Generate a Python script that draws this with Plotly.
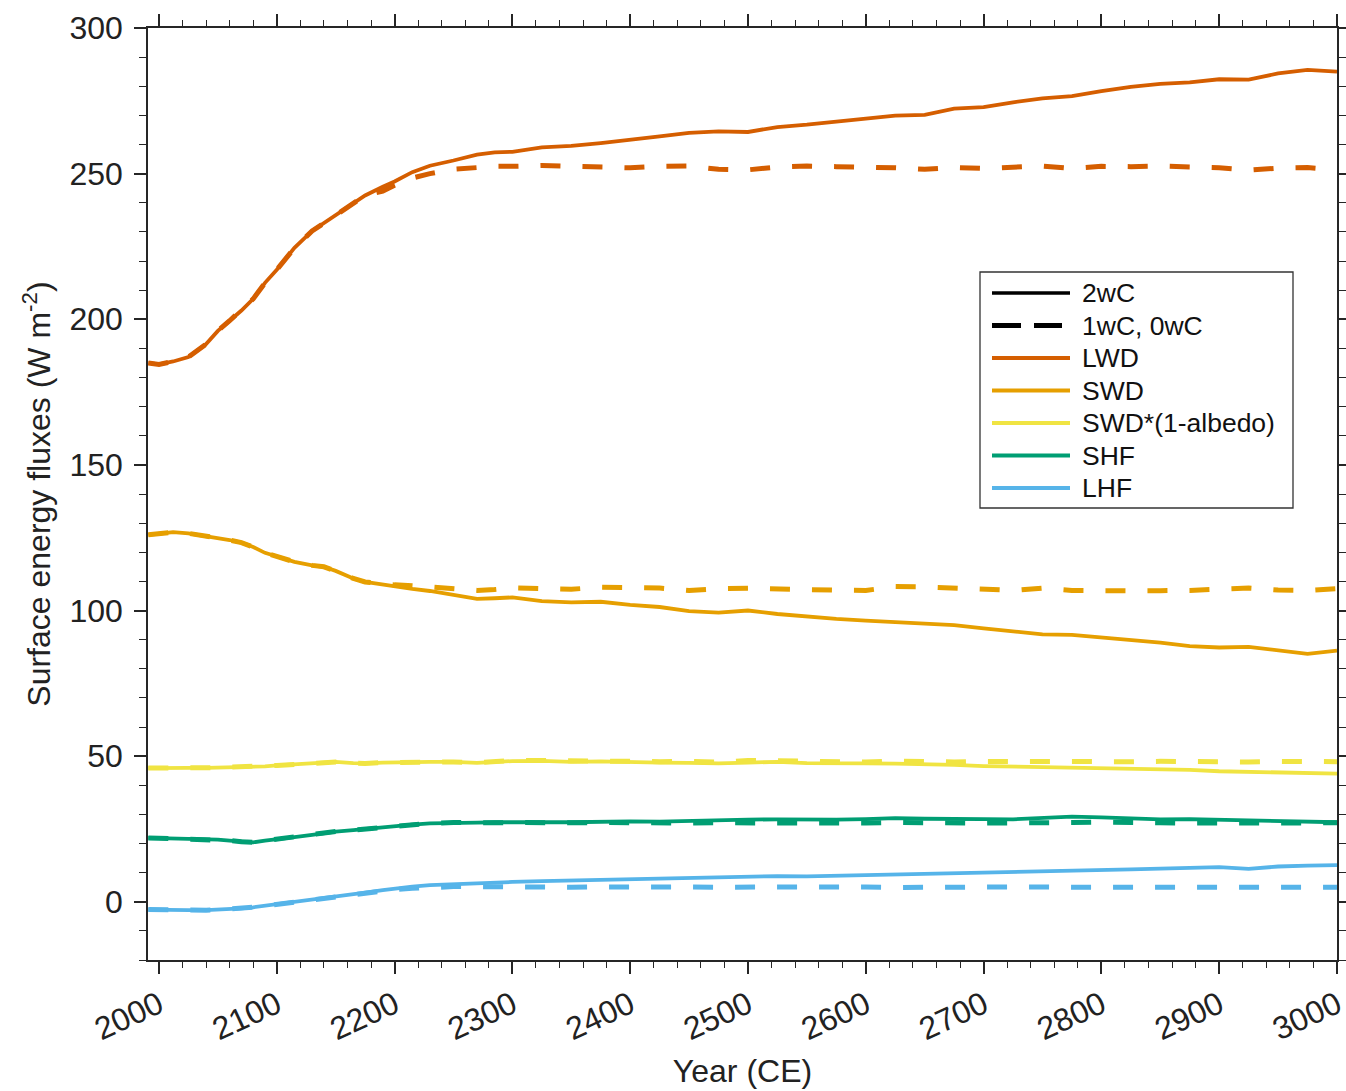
import plotly.graph_objects as go

# Model years (CE) at which the surface fluxes are sampled
YEARS = [1991, 2000, 2012, 2025, 2040, 2050, 2060, 2070, 2080, 2090, 2100,
         2115, 2130, 2140, 2150, 2165, 2175, 2190, 2200, 2215, 2230, 2250,
         2270, 2285, 2300, 2325, 2350, 2375, 2400, 2425, 2450, 2475, 2500,
         2525, 2550, 2575, 2600, 2625, 2650, 2675, 2700, 2725, 2750, 2775,
         2800, 2825, 2850, 2875, 2900, 2925, 2950, 2975, 3000]

# ---- 2wC experiment (solid lines), W m-2 ----
LWD_2WC = [185.0, 184.5, 185.5, 187.0, 191.5, 196.0, 199.5, 203.0, 207.0, 212.5, 217.0,
           224.5, 230.3, 233.0, 235.8, 240.0, 242.5, 245.5, 247.3, 250.5, 252.7, 254.5,
           256.5, 257.3, 257.5, 259.0, 259.5, 260.5, 261.5, 262.8, 264.0, 264.5, 264.3,
           266.0, 266.8, 267.8, 268.7, 269.9, 270.2, 272.3, 272.8, 274.5, 275.8, 276.6,
           278.3, 279.8, 280.8, 281.3, 282.4, 282.3, 284.4, 285.6, 285.0]
SWD_2WC = [126.0, 126.3, 126.9, 126.5, 125.6, 125.0, 124.2, 123.3, 121.8, 119.8, 118.5,
           116.7, 115.5, 115.0, 113.6, 111.0, 109.8, 108.8, 108.2, 107.4, 106.7, 105.3,
           104.0, 104.2, 104.5, 103.2, 102.8, 103.0, 101.9, 101.2, 99.8, 99.3, 100.0,
           98.8, 97.8, 97.1, 96.5, 96.0, 95.4, 95.0, 93.9, 93.0, 91.8, 91.6,
           90.8, 89.8, 89.0, 87.8, 87.3, 87.5, 86.3, 85.1, 86.2]
SWA_2WC = [45.9, 46.0, 46.1, 46.0, 46.0, 46.1, 46.0, 46.1, 46.2, 46.5, 46.8,
           47.1, 47.6, 47.8, 48.0, 47.6, 47.5, 47.8, 47.9, 47.8, 48.0, 48.0,
           47.7, 48.0, 48.3, 48.4, 48.0, 48.2, 47.9, 47.8, 47.7, 47.5, 47.8,
           48.0, 47.6, 47.7, 47.5, 47.4, 47.3, 47.0, 46.6, 46.4, 46.2, 46.3,
           46.0, 45.8, 45.7, 45.3, 44.8, 44.6, 44.5, 44.0, 44.0]
SHF_2WC = [21.9, 21.8, 21.7, 21.8, 21.5, 21.3, 21.0, 20.6, 20.4, 21.0, 21.6,
           22.2, 23.0, 23.6, 24.1, 24.6, 25.0, 25.7, 26.1, 26.5, 26.9, 27.2,
           27.2, 27.3, 27.4, 27.3, 27.3, 27.6, 27.6, 27.5, 27.8, 28.0, 28.2,
           28.3, 28.1, 28.2, 28.4, 28.7, 28.5, 28.6, 28.4, 28.3, 28.7, 29.2,
           29.0, 28.5, 28.3, 28.4, 28.2, 28.0, 27.9, 27.5, 27.3]
LHF_2WC = [-2.7, -2.8, -2.9, -2.9, -2.9, -2.8, -2.6, -2.3, -1.9, -1.4, -0.9,
           -0.1, 0.6, 1.1, 1.6, 2.5, 3.1, 4.0, 4.6, 5.2, 5.7, 6.1,
           6.5, 6.7, 6.8, 7.1, 7.3, 7.7, 8.0, 8.1, 8.3, 8.4, 8.5,
           8.8, 8.7, 8.9, 9.1, 9.3, 9.4, 9.6, 9.9, 10.1, 10.4, 10.7,
           10.9, 11.1, 11.4, 11.7, 11.9, 11.3, 12.1, 12.4, 12.6]

# ---- 1wC / 0wC experiments (dashed lines), W m-2 ----
LWD_1WC = [185.0, 184.5, 185.5, 187.0, 191.5, 196.0, 199.5, 203.0, 207.0, 212.5, 217.0,
           224.5, 230.3, 233.0, 235.8, 240.0, 242.5, 244.0, 246.0, 248.5, 250.0, 251.5,
           252.3, 252.5, 252.5, 252.8, 252.5, 252.3, 252.0, 252.5, 252.6, 251.5, 251.3,
           252.3, 252.6, 252.4, 252.3, 252.0, 251.5, 252.1, 251.8, 252.3, 252.6, 251.8,
           252.5, 252.4, 252.6, 252.3, 252.0, 251.2, 251.9, 252.1, 251.3]
SWD_1WC = [126.0, 126.3, 126.9, 126.5, 125.6, 125.0, 124.2, 123.3, 121.8, 119.8, 118.5,
           116.7, 115.5, 115.0, 113.6, 111.0, 109.8, 109.0, 108.8, 108.5, 108.0, 107.5,
           106.9, 107.2, 107.8, 107.5, 107.3, 108.0, 108.0, 107.7, 106.9, 107.5, 107.6,
           107.3, 107.3, 107.0, 106.9, 108.2, 108.1, 107.7, 107.2, 106.9, 107.7, 106.9,
           106.8, 107.0, 106.8, 106.9, 107.1, 107.7, 107.0, 106.9, 107.5]
SWA_1WC = [45.9, 46.0, 46.1, 46.0, 46.0, 46.1, 46.0, 46.1, 46.2, 46.5, 46.8,
           47.1, 47.6, 47.8, 48.0, 47.6, 47.5, 47.8, 47.9, 47.8, 48.0, 48.0,
           47.7, 48.0, 48.5, 48.5, 48.3, 48.4, 48.3, 48.1, 48.2, 47.9, 48.5,
           48.3, 48.0, 48.1, 48.0, 48.3, 48.1, 48.0, 48.2, 48.1, 48.3, 48.0,
           48.2, 48.1, 48.2, 48.0, 48.1, 48.0, 48.2, 48.0, 48.1]
SHF_1WC = [21.9, 21.8, 21.7, 21.8, 21.5, 21.3, 21.0, 20.6, 20.4, 21.0, 21.6,
           22.2, 23.0, 23.6, 24.1, 24.6, 25.0, 25.7, 26.1, 26.5, 26.9, 27.2,
           27.0, 27.1, 27.2, 27.0, 27.1, 27.2, 27.0, 27.1, 27.0, 27.1, 27.0,
           27.2, 27.0, 27.1, 27.0, 27.2, 27.0, 27.1, 27.0, 27.1, 27.0, 27.2,
           27.3, 27.0, 27.1, 27.0, 27.1, 27.0, 27.2, 27.0, 27.1]
LHF_1WC = [-2.7, -2.8, -2.9, -2.9, -2.9, -2.8, -2.6, -2.3, -1.9, -1.4, -0.9,
           -0.1, 0.6, 1.1, 1.6, 2.5, 3.1, 4.0, 4.2, 4.6, 4.9, 5.2,
           5.2, 5.1, 5.0, 5.2, 5.0, 5.1, 5.2, 5.0, 5.1, 5.0, 5.1,
           5.0, 5.3, 5.0, 5.1, 4.9, 5.0, 5.1, 5.0, 5.0, 5.1, 5.0,
           5.0, 5.1, 5.0, 5.0, 5.1, 5.0, 5.0, 4.9, 5.0]

SERIES = ["LWD", "SWD", "SWD*(1-albedo)", "SHF", "LHF"]
COLORS = ["#D55E00", "#E69F00", "#F0E442", "#009E73", "#56B4E9"]
SOLID = [LWD_2WC, SWD_2WC, SWA_2WC, SHF_2WC, LHF_2WC]
DASHED = [LWD_1WC, SWD_1WC, SWA_1WC, SHF_1WC, LHF_1WC]
STYLE_LABELS = ["2wC", "1wC, 0wC"]

FONT = "Liberation Sans, Arial, Helvetica, sans-serif"
AXIS_COLOR = "#262626"
DASH = "20px,22px"

# Figure and plot-area geometry in pixels
W, H = 1346, 1091
L, R, T, B = 148, 9, 28, 131
PW, PH = W - L - R, H - T - B


def px_x(px):
    """Horizontal pixel position -> paper fraction."""
    return (px - L) / PW


def px_y(py):
    """Vertical pixel position (from top) -> paper fraction."""
    return (H - B - py) / PH


fig = go.Figure()

# Solid lines: 2wC run
for name, color, vals in zip(SERIES, COLORS, SOLID):
    fig.add_trace(go.Scatter(x=YEARS, y=vals, mode="lines", name=name + " (2wC)",
                             showlegend=False,
                             line=dict(color=color, width=3.8)))

# Dashed lines: 1wC / 0wC runs
for name, color, vals in zip(SERIES, COLORS, DASHED):
    fig.add_trace(go.Scatter(x=YEARS, y=vals, mode="lines", name=name + " (1wC, 0wC)",
                             showlegend=False,
                             line=dict(color=color, width=5, dash=DASH)))

# ---- Legend box drawn in paper coordinates ----
shapes = [dict(type="rect", xref="paper", yref="paper",
               x0=px_x(980), x1=px_x(1293), y0=px_y(508), y1=px_y(272),
               line=dict(color="#333333", width=1.3), fillcolor="white", layer="above")]
annotations = []

LEG_X0, LEG_X1, LEG_TEXT = 992, 1070, 1080
row_y = [293 + 32.5 * i for i in range(7)]
entries = ([(STYLE_LABELS[0], "black", "solid"), (STYLE_LABELS[1], "black", "dash")]
           + [(n, c, "solid") for n, c in zip(SERIES, COLORS)])

for (label, color, style), yy in zip(entries, row_y):
    if style == "solid":
        segs = [(LEG_X0, LEG_X1)]
        width = 3.5 if color == "black" else 3.8
    else:
        segs = [(LEG_X0, 1021), (1034, 1062)]
        width = 5
    for a, b in segs:
        shapes.append(dict(type="line", xref="paper", yref="paper",
                           x0=px_x(a), x1=px_x(b), y0=px_y(yy), y1=px_y(yy),
                           line=dict(color=color, width=width), layer="above"))
    annotations.append(dict(text=label, xref="paper", yref="paper",
                            x=px_x(LEG_TEXT), y=px_y(yy), xanchor="left", yanchor="middle",
                            showarrow=False,
                            font=dict(family=FONT, size=26.5, color="#111111")))

axis_common = dict(
    showline=True, linecolor=AXIS_COLOR, linewidth=1.5, mirror="ticks",
    ticks="outside", tickcolor=AXIS_COLOR, tickwidth=1.5, ticklen=12,
    showgrid=False, zeroline=False, automargin=False, ticklabeloverflow="allow",
    tickfont=dict(family=FONT, size=32, color="#222222"),
)

fig.update_layout(
    width=W, height=H, autosize=False,
    margin=dict(l=L, r=R, t=T, b=B),
    paper_bgcolor="white", plot_bgcolor="white",
    font=dict(family=FONT, color="#222222"),
    showlegend=False,
    shapes=shapes,
    annotations=annotations,
    xaxis=dict(
        axis_common,
        range=[1990.7, 3000], tick0=2000, dtick=100, tickangle=-25,
        minor=dict(dtick=20, ticks="outside", ticklen=6, tickwidth=1.2,
                   tickcolor=AXIS_COLOR, showgrid=False),
        title=dict(text="Year (CE)", font=dict(family=FONT, size=32), standoff=14),
    ),
    yaxis=dict(
        axis_common,
        range=[-20, 300], tick0=0, dtick=50, ticklabelstandoff=5,
        minor=dict(dtick=10, ticks="outside", ticklen=7, tickwidth=1.2,
                   tickcolor=AXIS_COLOR, showgrid=False),
        title=dict(text="Surface energy fluxes (W m<sup>-2</sup>)",
                   font=dict(family=FONT, size=32), standoff=9),
    ),
)

fig.write_html("out.html")
